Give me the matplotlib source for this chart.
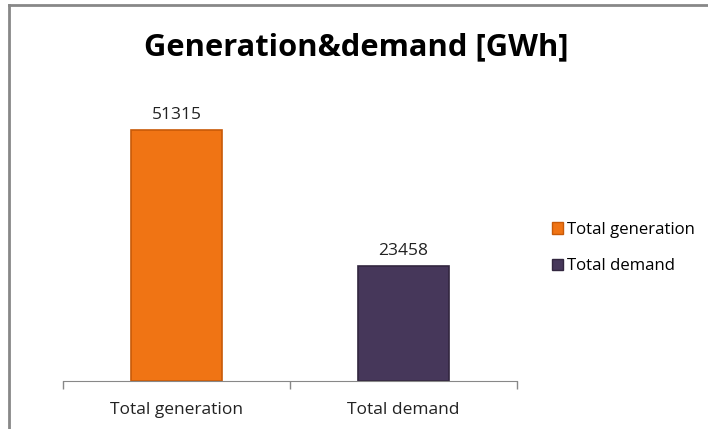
import matplotlib
matplotlib.use("Agg")
import matplotlib.pyplot as plt
from matplotlib.lines import Line2D
from matplotlib.patches import Patch

categories = ["Total generation", "Total demand"]
values = [51315, 23458]
colors = ["#F07414", "#46375A"]
edge_colors = ["#C85A08", "#32263F"]

plt.rcParams['font.family'] = ['Open Sans', 'DejaVu Sans']

fig = plt.figure(figsize=(7.08, 4.29), dpi=100)
ax = fig.add_axes([63/708, 48/429, 454/708, 293.5/429])

x = list(range(len(categories)))
bars = ax.bar(x, values, width=0.405, color=colors, edgecolor=edge_colors, linewidth=1.2,
              label=categories)
for xi, v in zip(x, values):
    ax.text(xi, v + 1500, str(v), ha='center', va='bottom', fontsize=12.5, color='#222222')

ax.set_xlim(-0.5, 1.5)
ax.set_ylim(0, 60000)
ax.set_xticks(x)
ax.set_xticklabels(categories, fontsize=12.5, color='#222222')
ax.tick_params(axis='x', which='major', length=0, pad=15)
ax.set_xticks([-0.5, 0.5, 1.5], minor=True)
ax.tick_params(axis='x', which='minor', length=6, color='#888888', width=1)
ax.set_yticks([])
for s in ['top', 'right', 'left']:
    ax.spines[s].set_visible(False)
ax.spines['bottom'].set_color('#888888')

fig.text(356/708, 1 - 47/429, "Generation&demand [GWh]", ha='center', va='center',
         fontsize=22.2, fontweight='bold', color='black')

handles = [Patch(facecolor=c, edgecolor=e) for c, e in zip(colors, edge_colors)]
fig.legend(handles, categories, loc='center left', bbox_to_anchor=(537/708, 1 - 248/429),
           frameon=False, fontsize=12.1, handlelength=0.65, handleheight=0.65,
           handletextpad=0.25, labelspacing=1.2)

# outer border
fig.add_artist(Line2D([8.5/708, 8.5/708], [0, 1 - 4.5/429], transform=fig.transFigure,
                      color='#888888', linewidth=2))
fig.add_artist(Line2D([8.5/708, 1], [1 - 4.5/429, 1 - 4.5/429], transform=fig.transFigure,
                      color='#888888', linewidth=2))

fig.savefig("out.png", dpi=100)
